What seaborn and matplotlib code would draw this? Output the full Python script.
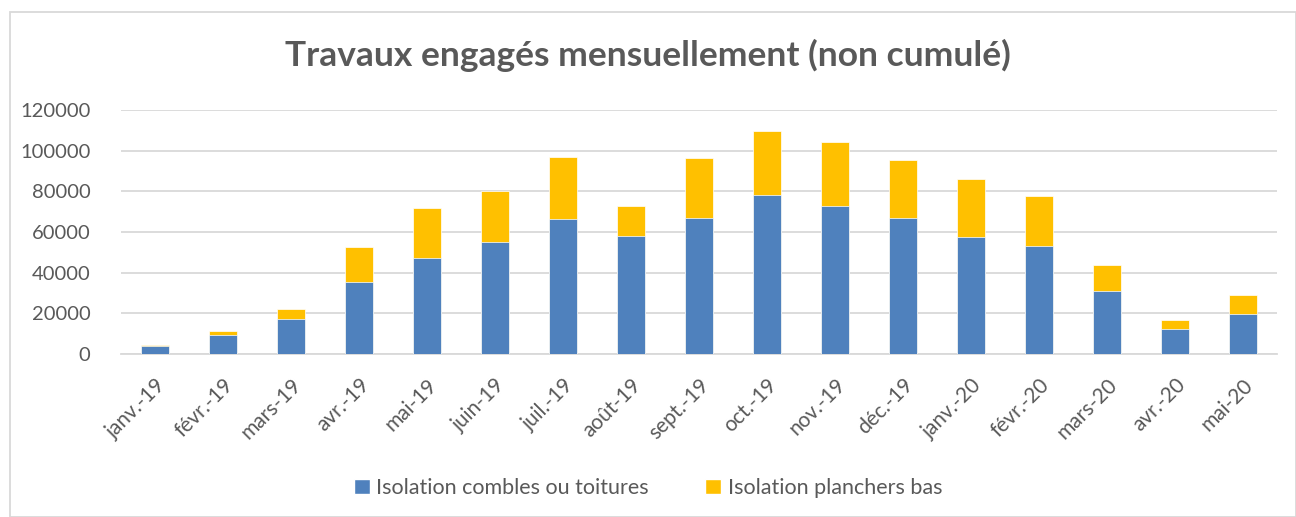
import pandas as pd
import numpy as np
import seaborn as sns
import matplotlib.pyplot as plt
from matplotlib.patches import Rectangle, Patch


mois = ["janv.-19", "févr.-19", "mars-19", "avr.-19", "mai-19", "juin-19",
        "juil.-19", "août-19", "sept.-19", "oct.-19", "nov.-19", "déc.-19",
        "janv.-20", "févr.-20", "mars-20", "avr.-20", "mai-20"]

# isolation combles ou toitures
combles = [3800, 9500, 17100, 35600, 47300, 55300, 66200, 57800, 67000,
           78200, 72900, 67100, 57300, 53000, 31000, 12400, 19700]

# isolation planchers bas
planchers = [800, 1700, 5200, 17100, 24300, 25000, 30900, 15100, 29200,
             31700, 31300, 28300, 28600, 24900, 12600, 4100, 9200]

blue = "#4F81BD"
yellow = "#FFC000"
grey_txt = "#595959"
grid_col = "#D9D9D9"

df = pd.DataFrame({"mois": mois, "combles": combles, "planchers": planchers})
df["total"] = df["combles"] + df["planchers"]

sns.set_style("white")
plt.rcParams['font.family'] = ['Lato', 'DejaVu Sans']

fig = plt.figure(figsize=(12.96, 5.17), dpi=100)
ax = fig.add_axes([121 / 1296, 1 - 354 / 517, (1277 - 121) / 1296, (354 - 110) / 517])

# stacked bars: total first (yellow) then the blue part on top of it
sns.barplot(data=df, x="mois", y="total", color=yellow, width=0.4, ax=ax,
            saturation=1, edgecolor="white", linewidth=0.5, zorder=3)
sns.barplot(data=df, x="mois", y="combles", color=blue, width=0.4, ax=ax,
            saturation=1, edgecolor="white", linewidth=0.5, zorder=3)

ax.set_ylim(0, 120000)
ax.set_xlim(-0.5, len(mois) - 0.5)
ax.set_yticks(np.arange(0, 120001, 20000))
ax.yaxis.grid(True, color=grid_col, linewidth=1.3, zorder=0)
ax.set_axisbelow(True)
ax.set_xlabel("")
ax.set_ylabel("")

for s in ["top", "right", "left"]:
    ax.spines[s].set_visible(False)
ax.spines["bottom"].set_color(grid_col)
ax.spines["bottom"].set_linewidth(1.3)

ax.tick_params(axis="y", length=0, pad=22, labelsize=14.5, labelcolor=grey_txt)
ax.set_xticks(np.arange(len(mois)))
ax.set_xticklabels(mois, rotation=45, ha="right", rotation_mode="anchor")
ax.tick_params(axis="x", which="major", length=0, pad=15, labelsize=15, labelcolor=grey_txt)
ax.set_xticks(np.arange(-0.5, len(mois), 1), minor=True)
ax.tick_params(axis="x", which="minor", length=7, width=1.3, color=grid_col)

fig.text(0.5, 1 - 55 / 517, "Travaux engagés mensuellement (non cumulé)",
         ha="center", va="center", fontsize=25.5, fontweight="bold", color=grey_txt)

handles = [Patch(facecolor=blue, label="Isolation combles ou toitures"),
           Patch(facecolor=yellow, label="Isolation planchers bas")]
fig.legend(handles=handles, loc="center", bbox_to_anchor=(0.5, 1 - 488 / 517),
           ncol=2, frameon=False, fontsize=15.5, labelcolor=grey_txt,
           handlelength=0.75, handleheight=0.75, handletextpad=0.3, columnspacing=2.6)

# outer chart border
fig.patches.append(Rectangle((10 / 1296, 0), 1 - 10 / 1296, 1 - 12 / 517,
                             transform=fig.transFigure, fill=False,
                             edgecolor=grid_col, linewidth=1.3))

fig.savefig("out.png", dpi=100)
